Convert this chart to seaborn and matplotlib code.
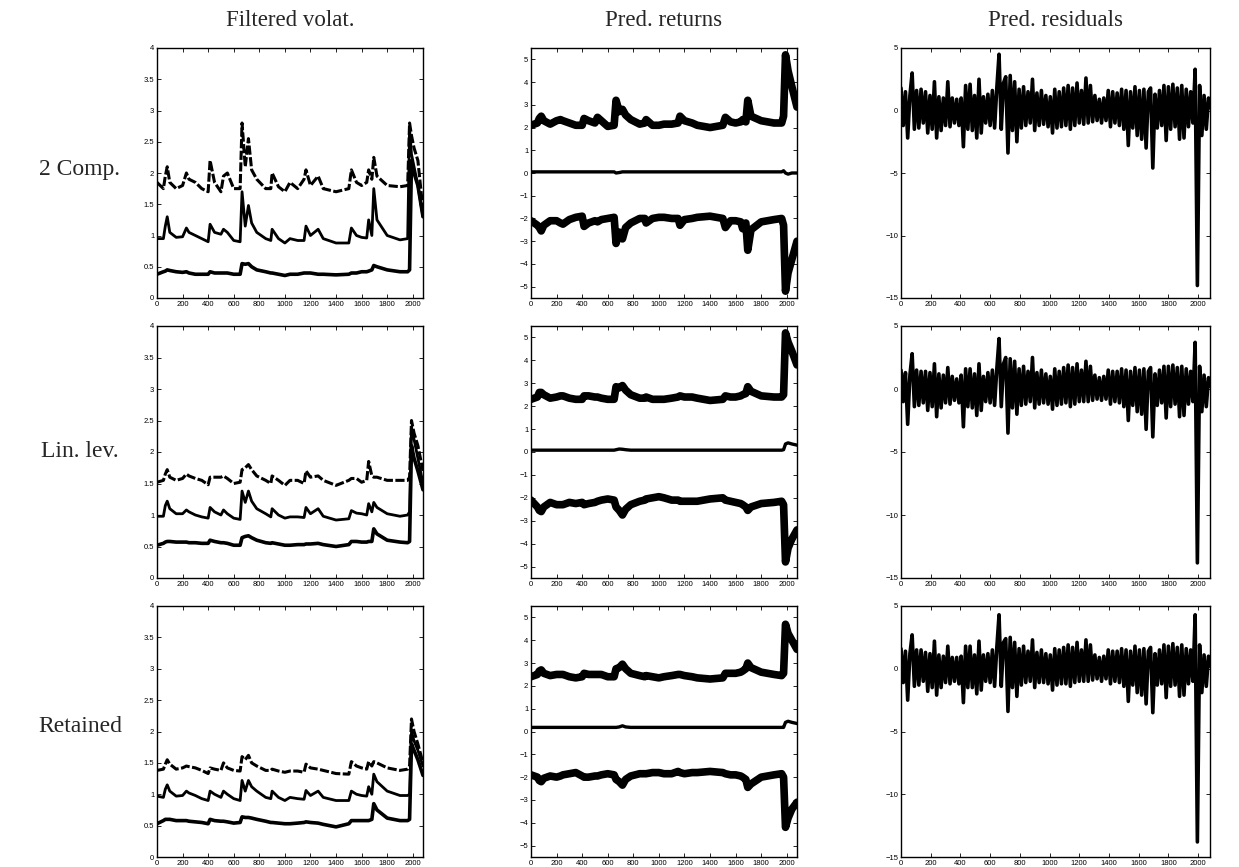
import numpy as np
import matplotlib
matplotlib.use("Agg")
import matplotlib.pyplot as plt
import seaborn as sns

# ---------------- data ----------------
COL_TITLES = ["Filtered volat.", "Pred. returns", "Pred. residuals"]
ROW_LABELS = ["2 Comp.", "Lin. lev.", "Retained"]

# knot positions (time index) used for the band series
KX = [0, 50, 65, 80, 100, 150, 200, 230, 250, 300,
      350, 400, 415, 450, 500, 520, 550, 600, 650, 665,
      690, 715, 740, 780, 850, 890, 900, 950, 1000, 1040,
      1100, 1150, 1165, 1200, 1260, 1300, 1400, 1500, 1520, 1560,
      1600, 1640, 1655, 1680, 1695, 1720, 1800, 1900, 1960, 1975,
      1990, 2010, 2040, 2080]

# ---- Filtered volatility ----
vol_up_2comp = [1.85, 1.75, 1.95, 2.10, 1.85, 1.75, 1.80, 2.00, 1.90, 1.85,
                1.75, 1.70, 2.20, 1.85, 1.70, 1.95, 2.00, 1.75, 1.75, 2.80,
                2.10, 2.55, 2.05, 1.90, 1.75, 1.75, 2.00, 1.78, 1.70, 1.85,
                1.75, 1.90, 2.05, 1.80, 1.95, 1.75, 1.70, 1.75, 2.05, 1.85,
                1.80, 1.85, 2.05, 1.90, 2.25, 1.95, 1.80, 1.78, 1.80, 2.80,
                2.60, 2.40, 2.20, 1.40]
vol_mid_2comp = [0.95, 0.95, 1.15, 1.30, 1.05, 0.97, 0.98, 1.12, 1.05, 1.00,
                 0.95, 0.90, 1.18, 1.05, 1.02, 1.10, 1.05, 0.92, 0.90, 1.70,
                 1.15, 1.48, 1.20, 1.05, 0.95, 0.92, 1.10, 0.95, 0.88, 0.95,
                 0.92, 0.92, 1.15, 1.00, 1.10, 0.95, 0.88, 0.88, 1.12, 1.00,
                 0.97, 0.96, 1.25, 1.00, 1.75, 1.25, 1.00, 0.93, 0.95, 2.70,
                 2.30, 2.10, 1.80, 1.30]
vol_low_2comp = [0.38, 0.42, 0.43, 0.45, 0.44, 0.42, 0.41, 0.42, 0.40, 0.38,
                 0.38, 0.38, 0.42, 0.40, 0.40, 0.40, 0.40, 0.38, 0.38, 0.55,
                 0.54, 0.55, 0.50, 0.45, 0.42, 0.40, 0.40, 0.38, 0.36, 0.38,
                 0.38, 0.40, 0.40, 0.40, 0.38, 0.38, 0.37, 0.38, 0.40, 0.40,
                 0.42, 0.42, 0.43, 0.45, 0.52, 0.50, 0.45, 0.42, 0.42, 0.45,
                 2.20, 2.00, 1.80, 1.30]

vol_up_linlev = [1.52, 1.55, 1.65, 1.72, 1.60, 1.55, 1.58, 1.65, 1.62, 1.58,
                 1.55, 1.48, 1.60, 1.60, 1.60, 1.62, 1.58, 1.50, 1.52, 1.72,
                 1.75, 1.80, 1.72, 1.62, 1.55, 1.50, 1.62, 1.55, 1.47, 1.55,
                 1.55, 1.50, 1.70, 1.60, 1.62, 1.55, 1.47, 1.55, 1.58, 1.58,
                 1.52, 1.55, 1.85, 1.62, 1.60, 1.60, 1.55, 1.55, 1.55, 1.60,
                 2.50, 2.30, 2.10, 1.70]
vol_mid_linlev = [0.98, 0.98, 1.15, 1.22, 1.10, 1.02, 1.02, 1.08, 1.05, 1.00,
                  0.97, 0.95, 1.12, 1.05, 1.00, 1.08, 1.02, 0.95, 0.93, 1.38,
                  1.20, 1.38, 1.22, 1.10, 1.02, 0.97, 1.10, 1.00, 0.95, 0.97,
                  0.97, 0.96, 1.12, 1.02, 1.10, 0.98, 0.92, 0.94, 1.07, 1.03,
                  1.02, 1.00, 1.18, 1.05, 1.20, 1.12, 1.02, 0.98, 1.00, 1.05,
                  2.40, 2.20, 1.90, 1.50]
vol_low_linlev = [0.52, 0.55, 0.57, 0.58, 0.58, 0.57, 0.57, 0.57, 0.56, 0.56,
                  0.55, 0.55, 0.60, 0.58, 0.56, 0.56, 0.55, 0.52, 0.52, 0.64,
                  0.66, 0.67, 0.64, 0.60, 0.56, 0.55, 0.56, 0.54, 0.52, 0.52,
                  0.53, 0.53, 0.54, 0.54, 0.55, 0.53, 0.50, 0.53, 0.58, 0.58,
                  0.57, 0.57, 0.58, 0.58, 0.78, 0.70, 0.60, 0.57, 0.56, 0.58,
                  2.10, 1.90, 1.70, 1.40]

vol_up_ret = [1.38, 1.40, 1.48, 1.55, 1.48, 1.40, 1.42, 1.45, 1.44, 1.42,
              1.38, 1.33, 1.42, 1.40, 1.38, 1.50, 1.42, 1.38, 1.37, 1.60,
              1.55, 1.62, 1.50, 1.45, 1.38, 1.38, 1.40, 1.37, 1.35, 1.37,
              1.37, 1.35, 1.48, 1.42, 1.40, 1.38, 1.33, 1.32, 1.52, 1.45,
              1.42, 1.40, 1.52, 1.45, 1.52, 1.50, 1.42, 1.38, 1.40, 1.45,
              2.20, 2.00, 1.80, 1.50]
vol_mid_ret = [0.97, 0.95, 1.08, 1.15, 1.05, 0.97, 0.98, 1.05, 1.02, 0.98,
               0.93, 0.90, 1.05, 1.00, 0.95, 1.05, 1.00, 0.93, 0.90, 1.22,
               1.05, 1.22, 1.12, 1.05, 0.95, 0.93, 1.05, 0.95, 0.90, 0.95,
               0.93, 0.92, 1.06, 0.98, 1.05, 0.95, 0.90, 0.90, 1.05, 1.00,
               0.98, 0.97, 1.12, 1.00, 1.32, 1.20, 1.05, 0.98, 0.98, 1.00,
               2.00, 1.85, 1.70, 1.45]
vol_low_ret = [0.53, 0.58, 0.60, 0.60, 0.60, 0.58, 0.58, 0.58, 0.57, 0.56,
               0.55, 0.53, 0.60, 0.58, 0.57, 0.57, 0.56, 0.54, 0.55, 0.64,
               0.63, 0.63, 0.62, 0.60, 0.57, 0.55, 0.55, 0.54, 0.53, 0.53,
               0.54, 0.55, 0.56, 0.55, 0.54, 0.52, 0.48, 0.53, 0.58, 0.58,
               0.58, 0.58, 0.58, 0.60, 0.85, 0.75, 0.62, 0.58, 0.58, 0.60,
               1.80, 1.70, 1.55, 1.30]

# ---- Predicted returns ----
ret_up_2comp = [2.10, 2.20, 2.40, 2.50, 2.30, 2.15, 2.30, 2.35, 2.30, 2.20,
                2.10, 2.10, 2.40, 2.30, 2.20, 2.45, 2.30, 2.05, 2.10, 3.20,
                2.70, 2.80, 2.55, 2.35, 2.15, 2.20, 2.35, 2.10, 2.10, 2.15,
                2.15, 2.20, 2.50, 2.30, 2.20, 2.10, 2.00, 2.10, 2.45, 2.25,
                2.20, 2.25, 2.35, 2.25, 3.20, 2.50, 2.30, 2.20, 2.20, 2.50,
                5.20, 4.50, 3.80, 2.90]
ret_mid_2comp = [0.05, 0.05, 0.05, 0.05, 0.05, 0.05, 0.05, 0.05, 0.05, 0.05,
                 0.05, 0.05, 0.05, 0.05, 0.05, 0.05, 0.05, 0.05, 0.05, 0.00,
                 0.02, 0.05, 0.05, 0.05, 0.05, 0.05, 0.05, 0.05, 0.05, 0.05,
                 0.05, 0.05, 0.05, 0.05, 0.05, 0.05, 0.05, 0.05, 0.05, 0.05,
                 0.05, 0.05, 0.05, 0.05, 0.05, 0.05, 0.05, 0.05, 0.05, 0.10,
                 0.00, -0.05, 0.00, 0.00]
ret_low_2comp = [-2.10, -2.30, -2.40, -2.55, -2.30, -2.10, -2.10, -2.20, -2.25, -2.05,
                 -1.95, -1.90, -2.35, -2.20, -2.10, -2.15, -2.05, -2.00, -1.95, -3.10,
                 -2.60, -2.90, -2.40, -2.20, -2.00, -2.00, -2.20, -2.00, -1.95, -1.95,
                 -2.00, -2.00, -2.30, -2.05, -2.00, -1.95, -1.90, -2.00, -2.40, -2.10,
                 -2.10, -2.15, -2.45, -2.20, -3.40, -2.50, -2.15, -2.05, -2.00, -2.30,
                 -5.20, -4.40, -3.80, -3.00]

ret_up_linlev = [2.30, 2.40, 2.60, 2.60, 2.50, 2.35, 2.40, 2.45, 2.45, 2.35,
                 2.30, 2.30, 2.45, 2.45, 2.40, 2.40, 2.35, 2.30, 2.30, 2.85,
                 2.80, 2.90, 2.70, 2.50, 2.35, 2.35, 2.40, 2.30, 2.30, 2.30,
                 2.35, 2.40, 2.45, 2.40, 2.40, 2.35, 2.25, 2.30, 2.45, 2.40,
                 2.40, 2.45, 2.50, 2.55, 2.85, 2.65, 2.45, 2.40, 2.40, 2.50,
                 5.20, 4.80, 4.40, 3.80]
ret_mid_linlev = [0.08, 0.08, 0.08, 0.08, 0.08, 0.08, 0.08, 0.08, 0.08, 0.08,
                  0.08, 0.08, 0.08, 0.08, 0.08, 0.08, 0.08, 0.08, 0.08, 0.10,
                  0.13, 0.12, 0.10, 0.08, 0.08, 0.08, 0.08, 0.08, 0.08, 0.08,
                  0.08, 0.08, 0.08, 0.08, 0.08, 0.08, 0.08, 0.08, 0.08, 0.08,
                  0.08, 0.08, 0.08, 0.08, 0.08, 0.08, 0.08, 0.08, 0.08, 0.10,
                  0.35, 0.40, 0.35, 0.30]
ret_low_linlev = [-2.10, -2.40, -2.55, -2.60, -2.40, -2.20, -2.30, -2.30, -2.30, -2.20,
                  -2.25, -2.20, -2.30, -2.25, -2.20, -2.15, -2.10, -2.05, -2.10, -2.40,
                  -2.55, -2.75, -2.50, -2.30, -2.15, -2.10, -2.05, -2.00, -1.95, -2.00,
                  -2.10, -2.10, -2.15, -2.15, -2.15, -2.15, -2.05, -2.00, -2.10, -2.15,
                  -2.20, -2.25, -2.30, -2.40, -2.55, -2.40, -2.25, -2.20, -2.15, -2.30,
                  -4.80, -4.20, -3.80, -3.40]

ret_up_ret = [2.40, 2.50, 2.65, 2.70, 2.55, 2.45, 2.50, 2.50, 2.50, 2.40,
              2.35, 2.40, 2.55, 2.50, 2.50, 2.50, 2.50, 2.40, 2.40, 2.75,
              2.80, 2.95, 2.75, 2.55, 2.45, 2.40, 2.45, 2.40, 2.35, 2.40,
              2.45, 2.50, 2.50, 2.45, 2.40, 2.35, 2.30, 2.35, 2.55, 2.55,
              2.55, 2.60, 2.65, 2.75, 3.00, 2.80, 2.60, 2.50, 2.45, 2.55,
              4.70, 4.30, 4.00, 3.60]
ret_mid_ret = [0.18, 0.18, 0.18, 0.18, 0.18, 0.18, 0.18, 0.18, 0.18, 0.18,
               0.18, 0.18, 0.18, 0.18, 0.18, 0.18, 0.18, 0.18, 0.18, 0.18,
               0.20, 0.25, 0.20, 0.18, 0.18, 0.18, 0.18, 0.18, 0.18, 0.18,
               0.18, 0.18, 0.18, 0.18, 0.18, 0.18, 0.18, 0.18, 0.18, 0.18,
               0.18, 0.18, 0.18, 0.18, 0.18, 0.18, 0.18, 0.18, 0.18, 0.18,
               0.40, 0.45, 0.40, 0.35]
ret_low_ret = [-1.90, -2.00, -2.15, -2.20, -2.05, -1.95, -2.00, -1.95, -1.90, -1.85,
               -1.80, -1.95, -2.00, -2.00, -1.95, -1.95, -1.90, -1.85, -1.90, -2.10,
               -2.20, -2.35, -2.10, -1.95, -1.85, -1.85, -1.85, -1.80, -1.80, -1.85,
               -1.85, -1.75, -1.80, -1.85, -1.80, -1.80, -1.75, -1.80, -1.85, -1.90,
               -1.90, -1.95, -2.00, -2.10, -2.45, -2.30, -2.00, -1.90, -1.85, -2.00,
               -4.20, -3.80, -3.40, -3.10]

# ---- Predicted residuals (every 15th time index) ----
RES_STEP = 15
res_2comp = [1.8, -1.2, 1.5, -2.2, 1.2, 3.0, -1.5, 1.6, -1.4, 1.7,
             -1.0, 1.5, -1.8, 1.2, -1.5, 2.3, -2.2, 1.1, -1.6, 1.0,
             -1.2, 2.3, -1.3, 1.0, -1.0, 0.9, -1.2, 1.0, -2.9, 2.0,
             -1.5, 2.1, -1.6, 1.2, -2.2, 2.5, -1.8, 1.1, -1.0, 1.3,
             -1.2, 1.6, -1.4, 1.8, 4.5, -1.5, 2.2, 2.7, -3.4, 2.8,
             -1.6, 2.3, -2.5, 1.7, -1.4, 1.9, -1.2, 1.5, -1.0, 2.5,
             -1.6, 1.4, -1.2, 1.6, -1.1, 1.2, -1.3, 1.1, -1.8, 1.7,
             -1.4, 1.5, -1.3, 1.8, -1.2, 2.0, -1.5, 1.8, -1.2, 2.2,
             -1.0, 1.6, -1.1, 2.6, -1.0, 2.0, -0.9, 1.2, -0.8, 0.9,
             -1.0, 1.0, -0.8, 1.6, -1.3, 1.5, -1.0, 1.4, -1.2, 1.7,
             -1.5, 1.6, -2.8, 1.5, -1.4, 1.9, -2.0, 1.6, -2.3, 1.7,
             -3.0, 1.5, 1.8, -4.6, 1.3, -1.4, 1.6, -1.2, 2.0, -2.4,
             1.9, -1.5, 2.1, -1.3, 1.8, -2.3, 2.0, -2.2, 1.7, -1.3,
             1.5, -1.0, 3.3, -14.0, 2.0, -2.0, 1.2, -1.5, 1.0, 0.2]
res_linlev = [1.5, -1.0, 1.3, -2.8, 1.1, 2.8, -1.4, 1.5, -1.3, 1.4,
              -1.1, 1.4, -1.7, 1.3, -1.4, 2.0, -2.2, 1.2, -1.5, 1.1,
              -1.1, 1.7, -1.2, 1.0, -0.9, 0.8, -1.1, 1.1, -3.0, 1.6,
              -1.4, 1.6, -1.5, 1.2, -2.1, 2.0, -1.7, 1.0, -1.0, 1.3,
              -1.1, 1.5, -1.3, 1.6, 4.0, -1.4, 2.0, 2.5, -3.5, 2.4,
              -1.5, 2.2, -2.0, 1.6, -1.3, 1.8, -1.2, 1.4, -1.0, 2.5,
              -1.5, 1.3, -1.2, 1.5, -1.1, 1.2, -1.2, 1.0, -1.6, 1.6,
              -1.3, 1.4, -1.2, 1.7, -1.1, 1.9, -1.4, 1.7, -1.2, 2.0,
              -1.0, 1.5, -1.0, 2.2, -1.0, 1.8, -0.9, 1.1, -0.8, 0.9,
              -0.9, 1.0, -0.8, 1.5, -1.2, 1.4, -1.0, 1.4, -1.1, 1.6,
              -1.4, 1.5, -2.5, 1.4, -1.3, 1.7, -1.8, 1.5, -2.0, 1.6,
              -3.2, 1.4, 1.7, -3.8, 1.2, -1.3, 1.5, -1.1, 1.8, -2.3,
              1.8, -1.4, 1.9, -1.2, 1.7, -2.2, 1.8, -2.1, 1.6, -1.2,
              1.4, -1.0, 3.7, -13.8, 1.8, -1.8, 1.1, -1.4, 0.9, 0.2]
res_ret = [1.6, -1.1, 1.4, -2.5, 1.2, 2.7, -1.4, 1.5, -1.3, 1.5,
           -1.0, 1.3, -1.8, 1.2, -1.5, 2.2, -2.1, 1.1, -1.5, 1.0,
           -1.1, 1.8, -1.2, 0.9, -1.0, 0.9, -1.2, 1.0, -2.7, 1.8,
           -1.5, 1.8, -1.5, 1.1, -2.0, 2.2, -1.7, 1.1, -1.0, 1.2,
           -1.1, 1.5, -1.4, 1.7, 4.3, -1.4, 2.1, 2.4, -3.4, 2.5,
           -1.5, 2.1, -2.2, 1.6, -1.3, 1.8, -1.1, 1.4, -1.0, 2.3,
           -1.5, 1.3, -1.1, 1.5, -1.1, 1.2, -1.2, 1.1, -1.7, 1.6,
           -1.3, 1.5, -1.2, 1.7, -1.2, 1.9, -1.4, 1.7, -1.1, 2.1,
           -1.0, 1.5, -1.0, 2.3, -1.0, 1.9, -0.9, 1.1, -0.8, 0.9,
           -1.0, 1.0, -0.8, 1.5, -1.2, 1.4, -1.0, 1.4, -1.1, 1.6,
           -1.4, 1.5, -2.6, 1.4, -1.3, 1.8, -1.9, 1.5, -2.1, 1.6,
           -2.8, 1.4, 1.7, -3.5, 1.2, -1.3, 1.5, -1.2, 1.9, -2.3,
           1.8, -1.4, 2.0, -1.3, 1.7, -2.2, 1.9, -2.1, 1.6, -1.2,
           1.5, -1.0, 4.3, -13.8, 1.9, -1.9, 1.1, -1.4, 1.0, 0.2]

XTICKS = [0, 200, 400, 600, 800, 1000, 1200, 1400, 1600, 1800, 2000]
VOL_YTICKS = [0, 0.5, 1, 1.5, 2, 2.5, 3, 3.5, 4]
RET_YTICKS = [-5, -4, -3, -2, -1, 0, 1, 2, 3, 4, 5]
RES_YTICKS = [-15, -10, -5, 0, 5]

VOL = [(vol_up_2comp, vol_mid_2comp, vol_low_2comp),
       (vol_up_linlev, vol_mid_linlev, vol_low_linlev),
       (vol_up_ret, vol_mid_ret, vol_low_ret)]
RET = [(ret_up_2comp, ret_mid_2comp, ret_low_2comp),
       (ret_up_linlev, ret_mid_linlev, ret_low_linlev),
       (ret_up_ret, ret_mid_ret, ret_low_ret)]
RES = [res_2comp, res_linlev, res_ret]

# ---------------- drawing ----------------
sns.set_style("ticks")
plt.rcParams['font.family'] = ['Liberation Sans', 'DejaVu Sans']

fig = plt.figure(figsize=(12.39, 8.67), dpi=100)

col_left = [157 / 1239, 531 / 1239, 901 / 1239]
col_w = [266 / 1239, 266 / 1239, 309 / 1239]
row_top = [48, 326, 606]
row_bot = [298, 578, 857]
XMAX = 2080


def style_axes(ax, ylim, yticks):
    ax.set_xlim(0, XMAX)
    ax.set_ylim(*ylim)
    ax.set_xticks(XTICKS)
    ax.set_xticklabels([str(t) for t in XTICKS])
    ax.set_yticks(yticks)
    ax.set_yticklabels(["%g" % t if t >= 0 else "\u2212%g" % (-t) for t in yticks])
    ax.tick_params(direction='in', top=True, right=True, length=3, width=0.6,
                   labelsize=5.5, pad=2, colors='black')
    for s in ax.spines.values():
        s.set_visible(True)
        s.set_linewidth(1.0)
        s.set_color('black')
    ax.set_xlabel("")
    ax.set_ylabel("")


def band_plot(ax, up, mid, low, lw_up, lw_mid, lw_low, dash_up, dash_low):
    sns.lineplot(x=KX, y=up, ax=ax, color='black', linewidth=lw_up,
                 errorbar=None, sort=False)
    if dash_up is not None:
        ax.lines[-1].set_dashes(dash_up)
    sns.lineplot(x=KX, y=mid, ax=ax, color='black', linewidth=lw_mid,
                 errorbar=None, sort=False)
    sns.lineplot(x=KX, y=low, ax=ax, color='black', linewidth=lw_low,
                 errorbar=None, sort=False)
    if dash_low is not None:
        ax.lines[-1].set_dashes(dash_low)


for r in range(3):
    bottom = 1 - row_bot[r] / 867
    height = (row_bot[r] - row_top[r]) / 867
    # volatility
    ax = fig.add_axes([col_left[0], bottom, col_w[0], height])
    up, mid, low = VOL[r]
    band_plot(ax, up, mid, low, 2.2, 2.0, 2.6, (3, 0.8), None)
    style_axes(ax, (0, 4), VOL_YTICKS)
    # returns
    ax = fig.add_axes([col_left[1], bottom, col_w[1], height])
    up, mid, low = RET[r]
    band_plot(ax, up, mid, low, 5.5, 2.4, 5.5, None, None)
    style_axes(ax, (-5.5, 5.5), RET_YTICKS)
    # residuals
    ax = fig.add_axes([col_left[2], bottom, col_w[2], height])
    rx = [i * RES_STEP for i in range(len(RES[r]))]
    sns.lineplot(x=rx, y=RES[r], ax=ax, color='black', linewidth=2.6,
                 errorbar=None, sort=False)
    style_axes(ax, (-15, 5), RES_YTICKS)

serif = ['Liberation Serif', 'DejaVu Serif']
col_centers = [(157 + 423) / 2, (531 + 797) / 2, (901 + 1210) / 2]
for c, t in enumerate(COL_TITLES):
    fig.text(col_centers[c] / 1239, 1 - 20 / 867, t, ha='center', va='center',
             fontsize=16.5, family=serif)
row_centers = [170, 452, 727]
for r, t in enumerate(ROW_LABELS):
    fig.text(80 / 1239, 1 - row_centers[r] / 867, t, ha='center', va='center',
             fontsize=17, family=serif)

fig.savefig("out.png", dpi=100)
